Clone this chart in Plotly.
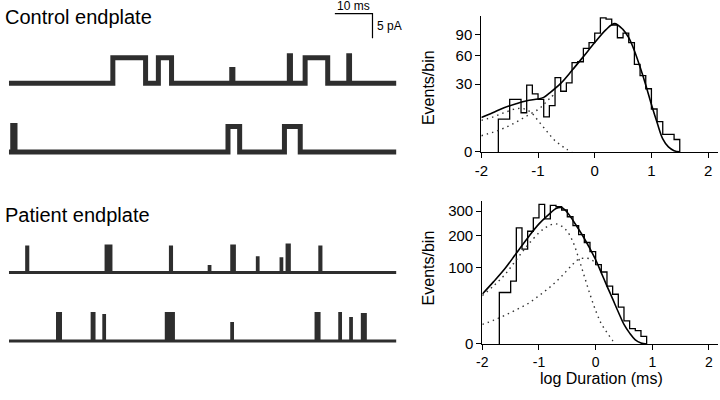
import numpy as np
import plotly.graph_objects as go

# single-channel records, openings as (start ms, end ms, amplitude pA)
ctrl_rec1 = [(27.6, 36.3, 5.2), (39.7, 43.2, 5.2), (59.2, 59.5, 2.8), (74.5, 74.8, 5.6),
             (78.7, 84.7, 5.2), (90.3, 90.5, 5.6)]
ctrl_rec2 = [(1.0, 1.6, 5.4), (58.2, 61.3, 5.2), (73.2, 77.4, 5.2)]
pat_rec1 = [(4.7, 5.0, 5.2), (25.8, 26.3, 5.4), (26.6, 27.1, 5.4), (42.9, 43.2, 5.2),
            (53.2, 53.4, 1.2), (59.2, 59.9, 5.4), (66.0, 66.2, 3.0), (72.3, 72.5, 2.8),
            (73.9, 74.5, 5.6), (82.6, 82.9, 5.2)]
pat_rec2 = [(12.9, 13.7, 5.6), (22.1, 22.6, 5.6), (25.2, 25.4, 5.2), (41.8, 42.4, 5.6),
            (43.2, 43.7, 5.6), (59.2, 59.4, 3.6), (81.6, 82.4, 5.6), (87.9, 88.1, 5.6),
            (90.8, 91.0, 4.6), (93.9, 94.7, 5.4)]
rec_len = 102.9  # ms

# scale bar
bar_ms = 10
bar_pA = 5

# dwell-time histograms, log duration bins of 0.1
bin_width = 0.1
ctrl_bin_start = -1.7
ctrl_counts = [7, 7, 18, 18, 10, 29, 22, 18, 8, 14, 36, 24, 31, 52, 53, 70,
               78, 92, 117, 115, 105, 85, 92, 78, 50, 38, 26, 12, 6, 2, 2, 1]
pat_bin_start = -1.7
pat_counts = [45, 45, 67, 229, 153, 216, 270, 331, 266, 326, 320, 305, 275,
              238, 203, 175, 145, 107, 88, 57, 42, 23, 9, 4, 3, 1]

# fitted curves
ctrl_fit_x = [-2, -1.8, -1.6, -1.4, -1.2, -1.0, -0.9, -0.8, -0.6, -0.4, -0.2, 0, 0.2,
              0.35, 0.5, 0.6, 0.7, 0.8, 0.9, 1.0, 1.1, 1.2, 1.3, 1.4, 1.5]
ctrl_fit = [7.7, 10, 12.7, 15, 17.1, 18.2, 19.4, 22.5, 30.6, 43.4, 59.2, 77.9, 97.6,
            107.3, 97.6, 85, 66.7, 46.9, 29.2, 14.6, 5.6, 1.1, 0.16, 0.01, 0]
ctrl_fast_x = [-2, -1.8, -1.6, -1.4, -1.3, -1.2, -1.1, -1.0, -0.9, -0.8, -0.7, -0.6, -0.5, -0.4]
ctrl_fast = [6.5, 7.9, 10, 12.1, 12.3, 11.7, 9.5, 6.4, 3.9, 2.0, 0.8, 0.3, 0.05, 0]
ctrl_slow_x = [-2, -1.8, -1.6, -1.4, -1.2, -1.0, -0.9, -0.8, -0.7]
ctrl_slow = [1.7, 2.5, 3.7, 5.6, 8.4, 11.7, 14.6, 18.5, 22]

pat_fit_x = [-2, -1.8, -1.6, -1.4, -1.2, -1.0, -0.8, -0.7, -0.6, -0.5, -0.4, -0.2, 0,
             0.1, 0.2, 0.3, 0.4, 0.5, 0.6, 0.7, 0.8, 0.9]
pat_fit = [42.4, 66, 96.6, 140, 191, 245, 291, 312, 316, 294, 259, 189, 120.5,
           86, 57, 34.5, 17.4, 6.5, 2, 0.3, 0.02, 0]
pat_fast_x = [-2, -1.8, -1.6, -1.4, -1.2, -1.0, -0.9, -0.8, -0.7, -0.6, -0.5, -0.4,
              -0.3, -0.2, -0.1, 0, 0.1, 0.2, 0.3, 0.35]
pat_fast = [39.7, 57.4, 82, 120.5, 166, 210, 228, 241, 245, 236, 215, 177,
            125, 78, 42, 19, 7, 2.2, 0.2, 0]
pat_slow_x = [-2, -1.8, -1.6, -1.4, -1.2, -1.0, -0.8, -0.6, -0.4, -0.3, -0.2, -0.1, 0, 0.1]
pat_slow = [6.5, 9.6, 14, 20, 27.4, 39.7, 55.5, 78, 108.7, 122, 125, 123, 111, 90]

FONT = "Liberation Sans, Arial, sans-serif"
W, H = 720, 400


def record_xy(events, base):
    xs, ys = [0], [base]
    for t0, t1, amp in events:
        xs += [t0, t0, t1, t1]
        ys += [base, base + amp, base + amp, base]
    xs.append(rec_len)
    ys.append(base)
    return xs, ys


def hist_xy(start, counts):
    edges = [round(start + bin_width * i, 2) for i in range(len(counts) + 1)]
    xs = [edges[0]] + edges[:-1] + [edges[-1], edges[-1]]
    ys = [0] + list(counts) + [counts[-1], 0]
    return xs, np.sqrt(ys)


fig = go.Figure()

# left: current records (pA), 5 px per pA, 3.8 px per ms
records = [(ctrl_rec1, 63.0, 5), (ctrl_rec2, 49.0, 5), (pat_rec1, 24.4, 3), (pat_rec2, 10.4, 3)]
for ev, base, lw in records:
    x, y = record_xy(ev, base)
    fig.add_trace(go.Scatter(x=x, y=y, mode="lines", line=dict(color="#2e2e2e", width=lw),
                             xaxis="x", yaxis="y", hoverinfo="skip"))

bx0 = 86.6
by0 = 77.2
fig.add_trace(go.Scatter(x=[bx0, bx0 + bar_ms, bx0 + bar_ms], y=[by0, by0, by0 - bar_pA],
                         mode="lines", line=dict(color="black", width=1.2),
                         xaxis="x", yaxis="y", hoverinfo="skip"))

# right: histograms, square-root ordinate
panels = [("x2", "y2", ctrl_bin_start, ctrl_counts, (ctrl_fit_x, ctrl_fit),
           [(ctrl_fast_x, ctrl_fast), (ctrl_slow_x, ctrl_slow)]),
          ("x3", "y3", pat_bin_start, pat_counts, (pat_fit_x, pat_fit),
           [(pat_fast_x, pat_fast), (pat_slow_x, pat_slow)])]
for xa, ya, start, counts, fit, comps in panels:
    hx, hy = hist_xy(start, counts)
    fig.add_trace(go.Scatter(x=hx, y=hy, mode="lines",
                             line=dict(color="black", width=1.3, shape="hv"),
                             xaxis=xa, yaxis=ya, hoverinfo="skip"))
    for cx, cy in comps:
        fig.add_trace(go.Scatter(x=cx, y=np.sqrt(cy), mode="lines",
                                 line=dict(color="#333", width=1.4, dash="1.5px,4px", shape="spline"),
                                 xaxis=xa, yaxis=ya, hoverinfo="skip"))
    fig.add_trace(go.Scatter(x=fit[0], y=np.sqrt(fit[1]), mode="lines",
                             line=dict(color="black", width=1.6, shape="spline"),
                             xaxis=xa, yaxis=ya, hoverinfo="skip"))

hidden = dict(visible=False, showgrid=False, zeroline=False)
ax_common = dict(showline=True, linecolor="black", linewidth=1.2, ticks="outside",
                 ticklen=5, tickwidth=1.2, tickcolor="black", showgrid=False, zeroline=False,
                 tickfont=dict(family=FONT, size=15, color="black"))
xt = dict(tickvals=[-2, -1, 0, 1, 2], ticktext=["-2", "-1", "0", "1", "2"])

fig.update_layout(
    width=W, height=H, margin=dict(l=0, r=0, t=0, b=0),
    paper_bgcolor="white", plot_bgcolor="rgba(0,0,0,0)", showlegend=False,
    xaxis=dict(domain=[0, 1], range=[-2 / 3.8, 718 / 3.8], **hidden),
    yaxis=dict(domain=[0, 1], range=[0, 80], **hidden),
    xaxis2=dict(domain=[479 / W, 718 / W], range=[-2, 2.175], anchor="y2", **xt, **ax_common),
    yaxis2=dict(domain=[1 - 155 / H, 1 - 16 / H], range=[0, 11], anchor="x2",
                tickvals=np.sqrt([0, 30, 60, 90]), ticktext=["0", "30", "60", "90"], **ax_common),
    xaxis3=dict(domain=[480 / W, 718 / W], range=[-2, 2.16], anchor="y3", **xt, **ax_common),
    yaxis3=dict(domain=[1 - 351 / H, 1 - 205 / H], range=[0, 18.65], anchor="x3",
                tickvals=np.sqrt([0, 100, 200, 300]), ticktext=["0", "100", "200", "300"], **ax_common),
)
fig.update_xaxes(tickfont_size=14, selector=dict(anchor="y3"))

ann = [
    dict(text="Control endplate", x=-4 / W, y=1 - 17 / H, xanchor="left", font_size=20),
    dict(text="Patient endplate", x=-4 / W, y=1 - 219 / H, xanchor="left", font_size=20),
    dict(text="10 ms", x=350 / W, y=1 - 6 / H, xanchor="center", font_size=12),
    dict(text="5 pA", x=372 / W, y=1 - 27 / H, xanchor="left", font_size=12),
    dict(text="Events/bin", x=425 / W, y=1 - 89 / H, xanchor="center", textangle=-90, font_size=16),
    dict(text="Events/bin", x=426 / W, y=1 - 273 / H, xanchor="center", textangle=-90, font_size=16),
    dict(text="log Duration (ms)", x=600 / W, y=1 - 386 / H, xanchor="center", font_size=16),
]
for a in ann:
    fs = a.pop("font_size")
    fig.add_annotation(xref="paper", yref="paper", yanchor="middle", showarrow=False,
                       font=dict(family=FONT, size=fs, color="black"), **a)

fig.write_html("out.html", config={"displayModeBar": False},
               post_script="document.body.style.margin='0';")
